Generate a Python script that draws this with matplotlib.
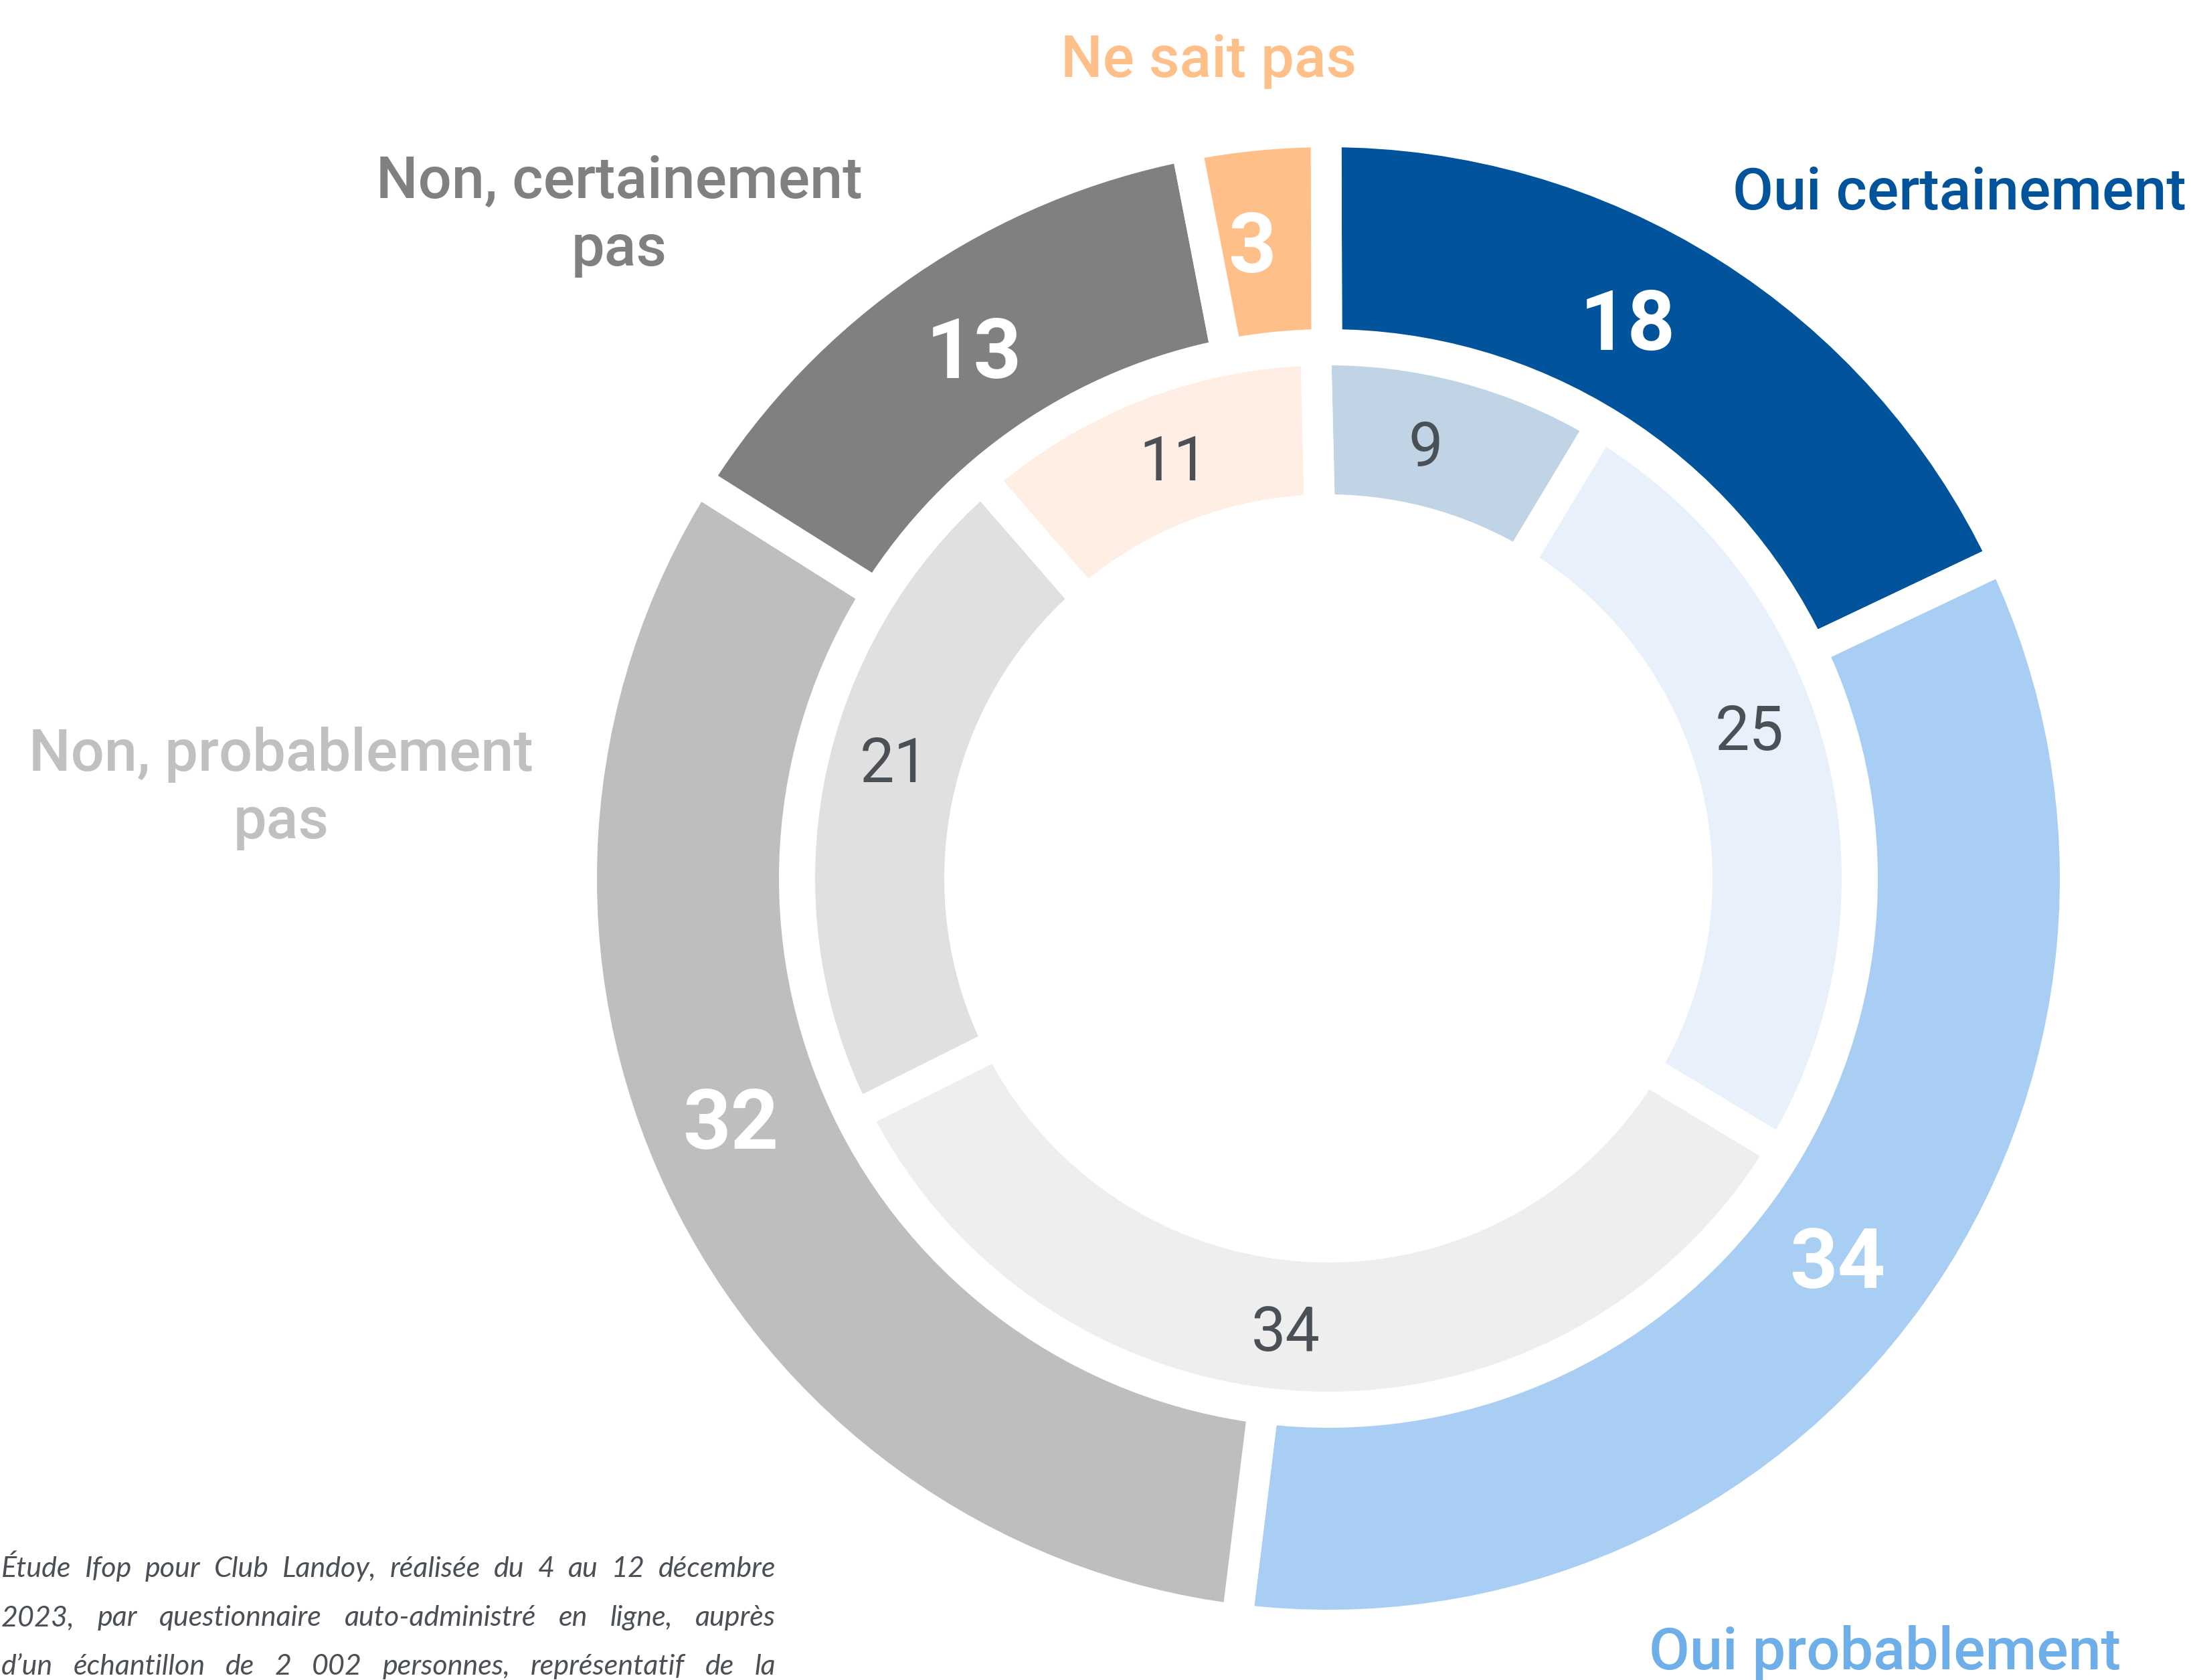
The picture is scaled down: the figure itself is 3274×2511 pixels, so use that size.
import numpy as np
import matplotlib
matplotlib.use('Agg')
import matplotlib.pyplot as plt

# data
cats = ['Oui certainement', 'Oui probablement', 'Non, probablement\npas',
        'Non, certainement\npas', 'Ne sait pas']
outer_vals = [18, 34, 32, 13, 3]
inner_vals = [9, 25, 34, 21, 11]

outer_cols = ['#01549B', '#A9CEF3', '#BEBEBE', '#808080', '#FFBF88']
inner_cols = ['#C1D4E6', '#E8F1FB', '#EEEEEE', '#E0E0E0', '#FFEEE3']
cat_cols = ['#01549B', '#6FAFE9', '#C0C0C0', '#808080', '#FFBF88']

note = ['Étude Ifop pour Club Landoy, réalisée du 4 au 12 décembre',
        '2023, par questionnaire auto-administré en ligne, auprès',
        'd’un échantillon de 2 002 personnes, représentatif de la']

W, H = 3274, 2511
fig = plt.figure(figsize=(W/100., H/100.), dpi=100)
ax = fig.add_axes([0, 0, 1, 1])

cx, cy = 1985, H - 1313
gap = 46.
r_out, r_out_in = 1093., 821.
r_in, r_in_in = 767., 574.
st_out = 90 + np.degrees(gap/2/957.) - 1.2
st_in = 90 + np.degrees(gap/2/670.) - 0.6

ax.pie(outer_vals, colors=outer_cols, radius=r_out+gap/2, center=(cx, cy),
       startangle=st_out, counterclock=False,
       wedgeprops=dict(width=r_out-r_out_in+gap, edgecolor='white', linewidth=gap*0.72))
ax.pie(inner_vals, colors=inner_cols, radius=r_in+gap/2, center=(cx, cy),
       startangle=st_in, counterclock=False,
       wedgeprops=dict(width=r_in-r_in_in+gap, edgecolor='white', linewidth=gap*0.72))

ax.set_aspect('auto')
ax.set_xlim(0, W)
ax.set_ylim(0, H)
ax.axis('off')

# value labels (pixel positions, from top-left)
out_pos = [(2432, 476), (2746, 1879), (1092, 1670), (1455, 518), (1871, 361)]
in_pos = [(2130, 662), (2614, 1086), (1921, 1984), (1336, 1134), (1754, 683)]
for v, (x, y) in zip(outer_vals, out_pos):
    ax.text(x, H-y, str(v), color='white', fontsize=90, fontweight='bold',
            family='Roboto', ha='center', va='center_baseline')
for v, (x, y) in zip(inner_vals, in_pos):
    ax.text(x, H-y, str(v), color='#4A5055', fontsize=66, family='Roboto',
            ha='center', va='center_baseline')

# category labels (anchor = last line baseline)
lab_pos = [(2928, 313), (2817, 2495), (420, 1253), (925, 397), (1806, 115)]
for s, c, (x, y) in zip(cats, cat_cols, lab_pos):
    ax.text(x, H-y, s, color=c, fontsize=63.5, fontweight='medium', family='Roboto',
            ha='center', va='baseline', linespacing=1.25, multialignment='center')

# footnote, justified
fig.canvas.draw()
rr = fig.canvas.get_renderer()
x0, x1 = 2, 1159
for i, line in enumerate(note):
    y = H - (2357 + 73*i)
    words = line.split(' ')
    ts = [ax.text(0, y, w, color='#4A5055', fontsize=31, family='Lato',
                  style='italic', va='baseline') for w in words]
    ws = [t.get_window_extent(rr).width for t in ts]
    sp = (x1 - x0 - sum(ws))/(len(words) - 1)
    x = x0
    for t, w in zip(ts, ws):
        t.set_x(x)
        x += w + sp

plt.savefig('out.png', dpi=100)
